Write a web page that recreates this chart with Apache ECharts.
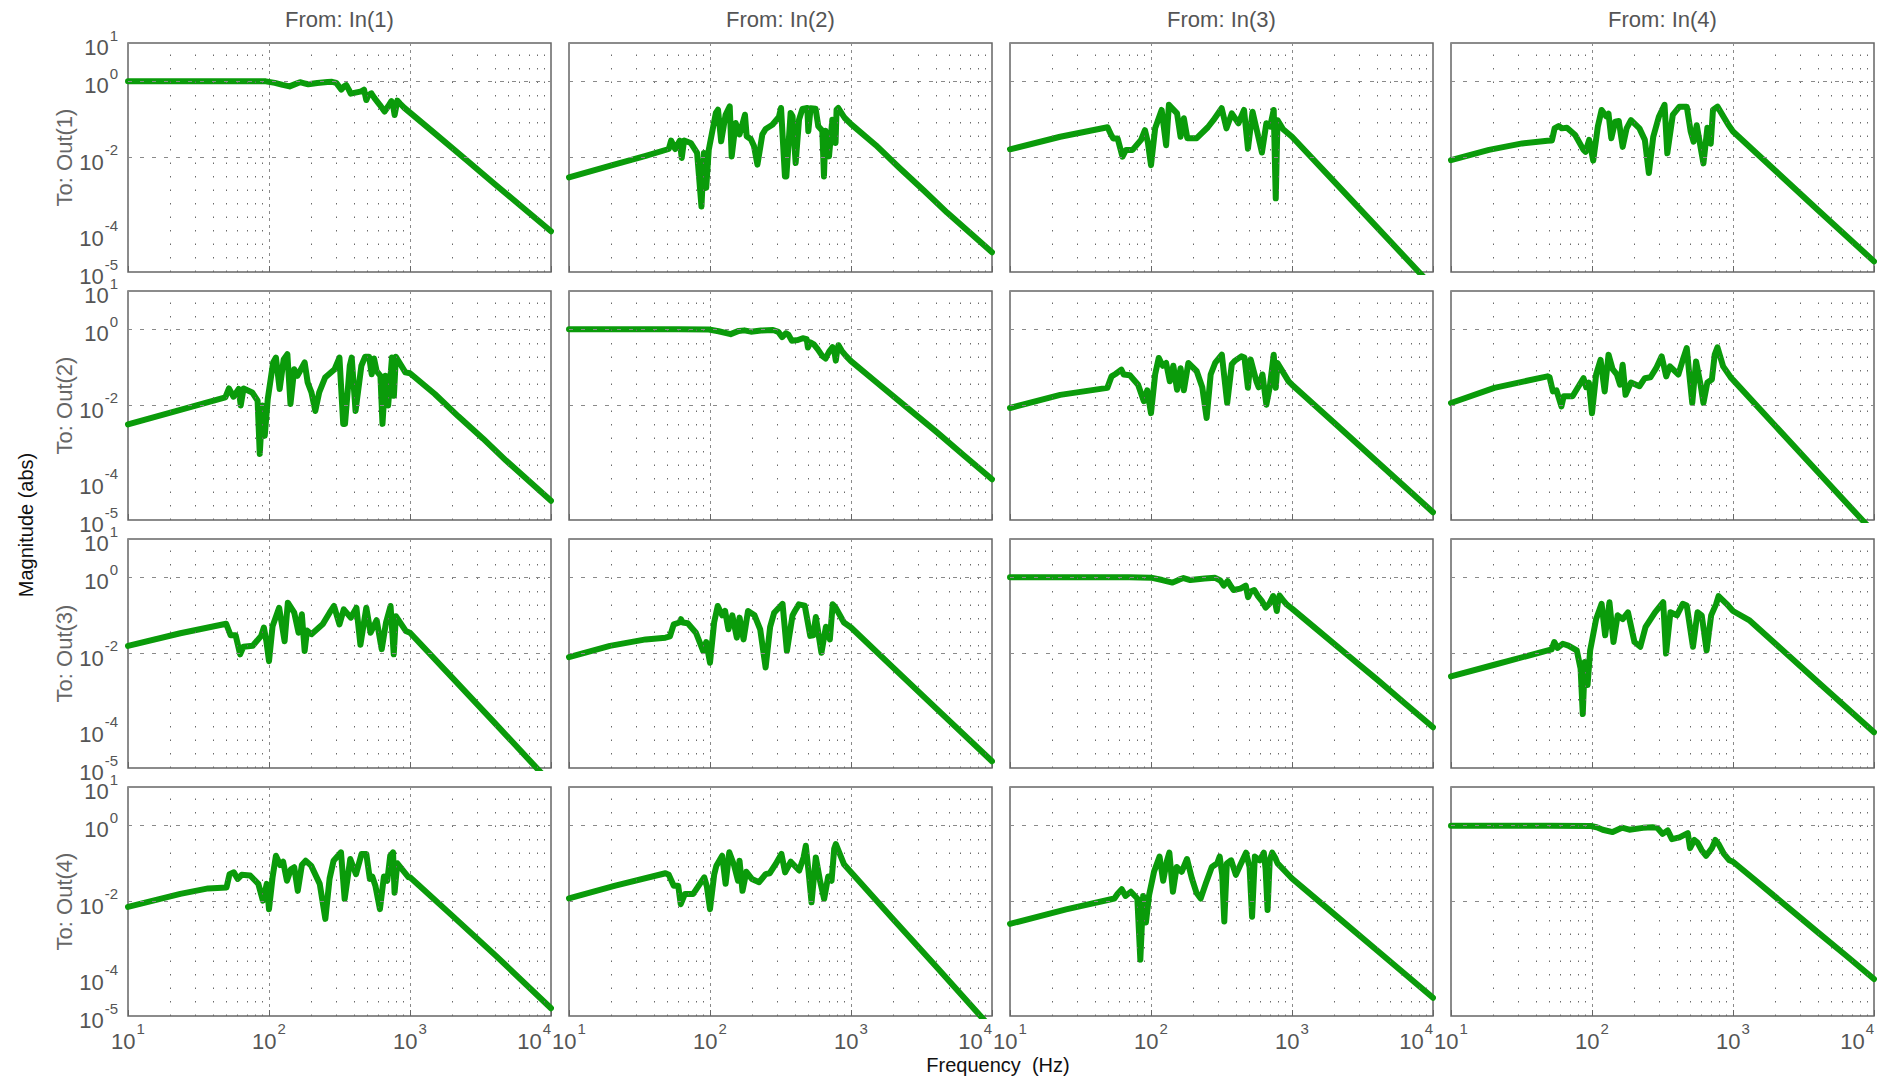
<!DOCTYPE html>
<html>
<head>
<meta charset="utf-8">
<title>Frequency response magnitude, 4x4</title>
<script src="https://cdn.jsdelivr.net/npm/echarts@6/dist/echarts.min.js"></script>
<style>
  html, body { margin: 0; padding: 0; background: #ffffff; }
  #chart { width: 1879px; height: 1079px; }
</style>
</head>
<body>
<div id="chart"></div>
<script>
// ---- channel names -------------------------------------------------------
const inputNames = ['In(1)', 'In(2)', 'In(3)', 'In(4)'];
const outputNames = ['Out(1)', 'Out(2)', 'Out(3)', 'Out(4)'];

// ---- axis ticks ----------------------------------------------------------
const freqLabelExponents = [1, 2, 3, 4];
const magLabelExponents = [1, 0, -2, -4, -5];
const magGridValues = [1, 1e-2, 1e-4];
const freqMinorGrid = [20, 30, 40, 50, 60, 70, 80, 90,
                       200, 300, 400, 500, 600, 700, 800, 900,
                       2000, 3000, 4000, 5000, 6000, 7000, 8000, 9000];

// ---- magnitude responses: [frequency (Hz), |G|] --------------------------
const out1_in1 = [[10,1.0],[50,1.0],[95,0.99],[110,0.9],[125,0.8],[140,0.73],[155,0.85],[166,0.94],[178,0.88],[190,0.83],[220,0.9],[260,0.95],[280,0.96],[300,0.9],[326,0.6],[340,0.72],[353,0.79],[368,0.6],[380,0.47],[410,0.5],[452,0.54],[472,0.6],[490,0.32],[505,0.42],[532,0.48],[560,0.36],[610,0.24],[660,0.16],[700,0.22],[738,0.3],[760,0.22],[778,0.13],[795,0.2],[813,0.31],[850,0.26],[912,0.2],[1000,0.15],[1500,0.043],[2500,8.7e-3],[4000,2.0e-3],[6300,4.9e-4],[10000,1.17e-4]];
const out1_in2 = [[10,0.003],[20,0.0062],[35,0.011],[51,0.0167],[53,0.0276],[56.6,0.0167],[61,0.0276],[63,0.0097],[65.5,0.028],[73,0.024],[81,0.0132],[87,5.2e-4],[90.6,0.0132],[94,1.6e-3],[98,0.016],[110,0.147],[114,0.179],[120,0.0265],[129,0.132],[138,0.219],[142.5,0.0107],[152,0.08],[162,0.04],[177,0.132],[182,0.036],[195,0.03],[205,0.02],[217,0.0065],[235,0.04],[248,0.056],[277,0.072],[308,0.115],[319,0.198],[340,0.0032],[348,0.0032],[373,0.147],[385,0.12],[405,0.0072],[428,0.098],[452,0.186],[490,0.198],[498,0.049],[517,0.195],[561,0.19],[586,0.066],[626,0.05],[643,0.0032],[660,0.05],[698,0.0107],[737,0.098],[777,0.024],[790,0.179],[813,0.198],[900,0.11],[1000,0.075],[1500,0.021],[2200,5.4e-3],[3300,1.35e-3],[4800,3.6e-4],[10000,3.3e-5]];
const out1_in3 = [[10,0.0164],[22.7,0.035],[49.2,0.062],[52,0.04],[54,0.0316],[58,0.0316],[62.8,0.0105],[66.4,0.0158],[74,0.0158],[85,0.029],[90.6,0.052],[95,0.025],[100,0.0063],[107,0.058],[119,0.176],[128,0.021],[134,0.24],[153,0.143],[162,0.035],[171,0.107],[181,0.032],[211,0.032],[253,0.062],[277,0.095],[317,0.195],[343,0.058],[374,0.143],[417,0.079],[457,0.176],[487,0.017],[525,0.158],[559,0.058],[612,0.0135],[658,0.079],[700,0.065],[742,0.176],[767,8.5e-4],[789,0.095],[865,0.055],[1000,0.035],[2000,2.3e-3],[4000,1.5e-4],[9000,6.1e-6]];
const out1_in4 = [[10,0.0085],[18.6,0.0158],[32,0.0234],[48.3,0.0275],[52,0.028],[54.3,0.058],[58,0.067],[61,0.058],[66.4,0.06],[76,0.039],[87,0.0158],[90,0.014],[95.5,0.029],[102,0.0083],[110,0.065],[117,0.176],[126,0.12],[131,0.14],[137,0.032],[146,0.087],[155,0.09],[165,0.019],[176,0.058],[189,0.095],[217,0.058],[237,0.029],[253,0.0039],[272,0.035],[298,0.117],[327,0.24],[342,0.0129],[374,0.13],[417,0.215],[470,0.215],[501,0.048],[525,0.026],[553,0.07],[617,0.007],[658,0.06],[695,0.023],[721,0.176],[776,0.215],[929,0.071],[1000,0.048],[2000,4.5e-3],[4000,4.2e-4],[10000,1.9e-5]];

const out2_in1 = [[10,0.0032],[20,0.0065],[49,0.0163],[52,0.028],[56,0.017],[61,0.027],[63,0.01],[66,0.028],[76,0.022],[83,0.0134],[86,5.4e-4],[90,0.01],[93.3,1.6e-3],[98,0.0148],[107,0.134],[112,0.18],[119,0.027],[127,0.16],[135,0.22],[142,0.011],[151,0.089],[159,0.06],[166,0.08],[179,0.134],[188,0.04],[200,0.022],[213,0.0072],[227,0.022],[250,0.054],[292,0.089],[316,0.18],[336,0.0033],[346,0.0033],[374,0.11],[386,0.18],[411,0.0072],[452,0.11],[481,0.19],[513,0.19],[535,0.066],[556,0.17],[580,0.08],[617,0.06],[638,0.0033],[670,0.06],[700,0.01],[745,0.18],[769,0.018],[794,0.19],[927,0.074],[1000,0.07],[1500,0.02],[2200,5.2e-3],[3300,1.35e-3],[4800,3.6e-4],[10000,3.2e-5]];
const out2_in2 = [[10,1.0],[60,1.0],[98,0.98],[115,0.88],[140,0.74],[160,0.9],[175,0.93],[195,0.86],[230,0.92],[280,0.95],[305,0.85],[325,0.62],[345,0.78],[360,0.72],[380,0.5],[420,0.52],[455,0.58],[485,0.55],[495,0.33],[515,0.45],[545,0.4],[580,0.3],[625,0.2],[660,0.17],[700,0.26],[740,0.34],[768,0.22],[780,0.15],[795,0.25],[815,0.38],[860,0.27],[920,0.2],[1000,0.145],[1500,0.042],[2500,8.8e-3],[4000,2.1e-3],[6300,5.0e-4],[10000,1.17e-4]];
const out2_in3 = [[10,0.0086],[22.7,0.019],[49,0.029],[52.5,0.058],[56,0.067],[61.6,0.087],[64,0.065],[70.8,0.062],[81,0.035],[89,0.0129],[94,0.025],[100,0.0063],[107,0.065],[113.5,0.176],[121,0.11],[128,0.13],[136,0.043],[144,0.11],[153,0.026],[162,0.095],[171,0.025],[184,0.13],[211,0.079],[231,0.03],[248,0.0047],[265,0.065],[285,0.13],[318,0.215],[347,0.0116],[374,0.12],[395,0.15],[437,0.194],[460,0.18],[487,0.029],[509,0.16],[559,0.043],[580,0.03],[617,0.065],[658,0.0105],[695,0.03],[742,0.215],[767,0.029],[789,0.13],[946,0.043],[1000,0.035],[2000,3.5e-3],[4000,3.4e-4],[10000,1.6e-5]];
const out2_in4 = [[10,0.0116],[20.3,0.029],[48.3,0.058],[50,0.055],[52.8,0.0234],[56,0.025],[60.7,0.0095],[63,0.0174],[72.8,0.0174],[87,0.052],[91,0.03],[95,0.04],[100,0.0063],[107,0.065],[115,0.158],[123,0.0234],[131,0.215],[140,0.09],[150,0.065],[158,0.035],[165,0.117],[173,0.019],[189,0.04],[217,0.032],[237,0.052],[260,0.055],[285,0.095],[312,0.194],[336,0.058],[357,0.106],[410,0.065],[441,0.158],[470,0.32],[490,0.065],[514,0.0116],[547,0.143],[589,0.035],[617,0.0116],[658,0.04],[708,0.048],[742,0.215],[776,0.334],[851,0.106],[973,0.052],[1000,0.047],[2000,2.9e-3],[4000,1.8e-4],[9500,5.7e-6]];

const out3_in1 = [[10,0.0158],[23.5,0.034],[49.7,0.06],[53.4,0.03],[58,0.03],[62.4,0.0095],[65.8,0.015],[76.7,0.016],[88,0.029],[92,0.048],[96,0.02],[100,0.0063],[106,0.052],[118,0.158],[129,0.021],[136,0.215],[151,0.117],[162,0.035],[171,0.107],[179,0.0117],[186,0.04],[200,0.032],[240,0.058],[269,0.117],[289,0.176],[316,0.058],[339,0.143],[380,0.087],[417,0.158],[445,0.017],[490,0.158],[525,0.035],[580,0.075],[630,0.013],[676,0.065],[728,0.176],[767,0.0095],[794,0.095],[933,0.039],[1000,0.035],[2000,2.3e-3],[4000,1.5e-4],[9000,6.0e-6]];
const out3_in2 = [[10,0.008],[19.5,0.0158],[35,0.0234],[48.3,0.026],[52,0.028],[55.3,0.058],[60.7,0.065],[62.2,0.079],[64,0.065],[69.5,0.062],[79.5,0.035],[89.5,0.0116],[94,0.02],[100,0.0057],[107,0.065],[113.5,0.176],[122,0.1],[128,0.13],[135,0.043],[144,0.1],[155,0.026],[162,0.087],[173,0.0234],[186,0.13],[207,0.1],[227,0.043],[248,0.0043],[267,0.05],[285,0.117],[327,0.2],[351,0.0116],[385,0.1],[400,0.13],[427,0.194],[470,0.18],[514,0.029],[540,0.03],[563,0.09],[617,0.0105],[664,0.05],[708,0.0234],[742,0.194],[770,0.17],[891,0.065],[1000,0.048],[2000,4.2e-3],[4000,3.7e-4],[10000,1.5e-5]];
const out3_in3 = [[10,1.0],[70,1.0],[100,0.97],[120,0.84],[142,0.72],[158,0.86],[170,0.95],[190,0.84],[240,0.92],[285,0.96],[310,0.82],[328,0.6],[350,0.79],[372,0.55],[385,0.46],[430,0.5],[470,0.6],[488,0.3],[510,0.42],[540,0.46],[570,0.33],[610,0.24],[650,0.16],[690,0.2],[735,0.32],[765,0.19],[780,0.13],[795,0.22],[815,0.33],[870,0.24],[920,0.19],[1000,0.15],[1500,0.043],[2500,8.9e-3],[4000,2.1e-3],[6300,5.0e-4],[10000,1.17e-4]];
const out3_in4 = [[10,0.0025],[20,0.005],[51.7,0.0128],[54,0.02],[57,0.014],[62,0.018],[68,0.016],[78,0.012],[83,0.004],[86,2.6e-4],[89,0.006],[93,0.0015],[97,0.012],[107,0.08],[117,0.2],[124,0.03],[133,0.22],[142,0.02],[152,0.1],[165,0.08],[180,0.12],[200,0.02],[220,0.015],[240,0.05],[280,0.12],[320,0.22],[335,0.01],[360,0.12],[400,0.1],[440,0.2],[470,0.18],[520,0.015],[560,0.12],[600,0.1],[650,0.012],[700,0.1],[760,0.2],[790,0.32],[900,0.2],[1000,0.13],[1300,0.075],[2000,0.018],[4000,1.8e-3],[10000,8.7e-5]];

const out4_in1 = [[10,0.0072],[23.5,0.0158],[37,0.022],[50,0.0234],[52.5,0.052],[56.3,0.058],[60,0.039],[64,0.05],[73.5,0.048],[84,0.029],[90.5,0.0105],[96.4,0.029],[100,0.0063],[106,0.043],[112,0.158],[120,0.09],[126,0.11],[134,0.035],[143,0.07],[151,0.079],[160,0.019],[171,0.09],[182,0.117],[199,0.087],[229,0.029],[251,0.0035],[269,0.04],[287,0.117],[324,0.194],[344,0.0116],[377,0.13],[414,0.052],[453,0.176],[490,0.176],[519,0.039],[540,0.045],[568,0.026],[612,0.0063],[653,0.045],[690,0.035],[724,0.158],[758,0.194],[777,0.017],[813,0.1],[977,0.043],[1000,0.043],[2000,4.2e-3],[4000,4.0e-4],[10000,1.6e-5]];
const out4_in2 = [[10,0.012],[21.3,0.026],[48.3,0.055],[51,0.05],[55.3,0.026],[59.5,0.026],[62,0.0085],[66.4,0.0158],[76,0.0158],[91,0.043],[95,0.025],[100,0.0063],[107,0.05],[111,0.087],[122,0.158],[129,0.029],[137,0.194],[148,0.09],[158,0.035],[162,0.117],[170,0.019],[181,0.06],[198,0.039],[223,0.032],[248,0.052],[265,0.055],[292,0.095],[321,0.176],[341,0.058],[374,0.11],[429,0.065],[461,0.143],[478,0.29],[500,0.06],[525,0.0095],[563,0.143],[603,0.035],[645,0.0116],[689,0.045],[728,0.035],[760,0.24],[781,0.32],[891,0.095],[1016,0.055],[2000,3.4e-3],[4000,2.0e-4],[9500,5.7e-6]];
const out4_in3 = [[10,0.0026],[25,0.0062],[55,0.012],[58,0.016],[62,0.021],[66,0.014],[72,0.018],[80,0.012],[84,3.0e-4],[88,0.014],[92,0.0028],[97,0.015],[105,0.06],[115,0.15],[122,0.035],[130,0.12],[135,0.19],[143,0.018],[152,0.08],[165,0.06],[180,0.13],[195,0.04],[210,0.017],[225,0.012],[245,0.03],[270,0.08],[295,0.1],[307,0.15],[320,0.05],[331,0.003],[345,0.1],[370,0.12],[400,0.05],[430,0.09],[472,0.19],[500,0.08],[521,0.004],[545,0.15],[590,0.12],[631,0.19],[650,0.07],[671,0.006],[695,0.12],[724,0.19],[760,0.14],[790,0.1],[900,0.06],[1000,0.04],[2000,4.6e-3],[4000,5.3e-4],[10000,3.0e-5]];
const out4_in4 = [[10,0.97],[50,0.97],[98,0.95],[108,0.88],[119,0.76],[140,0.66],[163,0.86],[184,0.76],[230,0.85],[269,0.88],[290,0.85],[317,0.59],[344,0.73],[369,0.43],[417,0.48],[478,0.62],[496,0.25],[532,0.41],[560,0.35],[600,0.22],[645,0.158],[709,0.25],[750,0.41],[794,0.31],[860,0.18],[942,0.12],[1000,0.11],[1500,0.032],[2500,6.6e-3],[4000,1.55e-3],[6300,3.9e-4],[10000,9.3e-5]];

const responses = [
  [out1_in1, out1_in2, out1_in3, out1_in4],
  [out2_in1, out2_in2, out2_in3, out2_in4],
  [out3_in1, out3_in2, out3_in3, out3_in4],
  [out4_in1, out4_in2, out4_in3, out4_in4]
];

// ---- styling and layout --------------------------------------------------
const FONT = "'Liberation Sans', Arial, Helvetica, sans-serif";
const TICK_COLOR = '#555555';
const CURVE_COLOR = '#0a9b0a';
const PANEL = { left0: 128, top0: 43, colStep: 441, rowStep: 248, width: 423, height: 229 };

const powerRich = {
  b: { fontSize: 22, fontFamily: FONT, color: TICK_COLOR, verticalAlign: 'bottom' },
  e: { fontSize: 15, fontFamily: FONT, color: TICK_COLOR, verticalAlign: 'bottom', padding: [0, 0, 16, 1] }
};
const powerLabel = (k) => '{b|10}{e|' + k + '}';
const exponentOf = (v) => Math.round(Math.log10(v));

const minorLine = { color: '#6a6a6a', width: 1, type: [1.5, 12] };
const majorLine = { color: '#8a8a8a', width: 1, type: [4, 8] };

const grids = [], xAxes = [], yAxes = [], series = [], graphics = [];

for (let r = 0; r < 4; r++) {
  for (let c = 0; c < 4; c++) {
    const i = r * 4 + c;
    const left = PANEL.left0 + c * PANEL.colStep;
    const top = PANEL.top0 + r * PANEL.rowStep;
    grids.push({
      left: left, top: top, width: PANEL.width, height: PANEL.height,
      show: true, borderColor: '#666666', borderWidth: 1.5, backgroundColor: '#ffffff'
    });
    xAxes.push({
      gridIndex: i, type: 'log', logBase: 10, min: 10, max: 10000, splitNumber: 3,
      axisLine: { show: false },
      axisTick: { show: true, inside: true, length: 6, lineStyle: { color: '#666666' } },
      splitLine: { show: true, lineStyle: { color: '#8a8a8a', width: 1, type: [3, 4] } },
      axisLabel: {
        show: r === 3, margin: 5, showMinLabel: true, showMaxLabel: true,
        alignMaxLabel: 'right', hideOverlap: false,
        formatter: (v) => {
          const k = exponentOf(v);
          return freqLabelExponents.includes(k) ? powerLabel(k) : '';
        },
        rich: powerRich
      }
    });
    yAxes.push({
      gridIndex: i, type: 'log', logBase: 10, min: 1e-5, max: 10, splitNumber: 6,
      axisLine: { show: false }, axisTick: { show: false }, splitLine: { show: false },
      axisLabel: {
        show: c === 0, margin: 10, showMinLabel: true, showMaxLabel: true,
        formatter: (v) => {
          const k = exponentOf(v);
          return magLabelExponents.includes(k) ? powerLabel(k) : '';
        },
        rich: powerRich
      }
    });
    // grid lines: minor frequency decades and major magnitude decades
    series.push({
      type: 'line', xAxisIndex: i, yAxisIndex: i, data: [], z: 1, silent: true,
      markLine: {
        silent: true, symbol: ['none', 'none'], label: { show: false }, animation: false,
        emphasis: { disabled: true },
        data: freqMinorGrid.map((f) => ({ xAxis: f, lineStyle: minorLine }))
          .concat(magGridValues.map((m) => ({ yAxis: m, lineStyle: majorLine })))
      }
    });
    // magnitude curve
    series.push({
      name: 'From: ' + inputNames[c] + ' To: ' + outputNames[r],
      type: 'line', xAxisIndex: i, yAxisIndex: i, data: responses[r][c],
      showSymbol: false, symbol: 'none', z: 3, silent: true, clip: true,
      lineStyle: { color: CURVE_COLOR, width: 6, join: 'round', cap: 'round' }
    });
  }
}

// column and row headings, overall axis names
for (let c = 0; c < 4; c++) {
  graphics.push({
    type: 'text', x: PANEL.left0 + c * PANEL.colStep + PANEL.width / 2, y: 19,
    style: { text: 'From: ' + inputNames[c], fontSize: 22, fontFamily: FONT, fill: TICK_COLOR, align: 'center', verticalAlign: 'middle' }
  });
}
for (let r = 0; r < 4; r++) {
  graphics.push({
    type: 'text', x: 64, y: PANEL.top0 + r * PANEL.rowStep + PANEL.height / 2, rotation: Math.PI / 2,
    style: { text: 'To: ' + outputNames[r], fontSize: 22, fontFamily: FONT, fill: '#666666', align: 'center', verticalAlign: 'middle' }
  });
}
graphics.push({
  type: 'text', x: 26, y: 525, rotation: Math.PI / 2,
  style: { text: 'Magnitude (abs)', fontSize: 20, fontFamily: FONT, fill: '#111111', align: 'center', verticalAlign: 'middle' }
});
graphics.push({
  type: 'text', x: 998, y: 1065,
  style: { text: 'Frequency  (Hz)', fontSize: 20, fontFamily: FONT, fill: '#111111', align: 'center', verticalAlign: 'middle' }
});

const chart = echarts.init(document.getElementById('chart'), null, { renderer: 'svg' });
chart.setOption({
  animation: false,
  backgroundColor: '#ffffff',
  textStyle: { fontFamily: FONT },
  grid: grids,
  xAxis: xAxes,
  yAxis: yAxes,
  series: series,
  graphic: graphics
});
</script>
</body>
</html>
